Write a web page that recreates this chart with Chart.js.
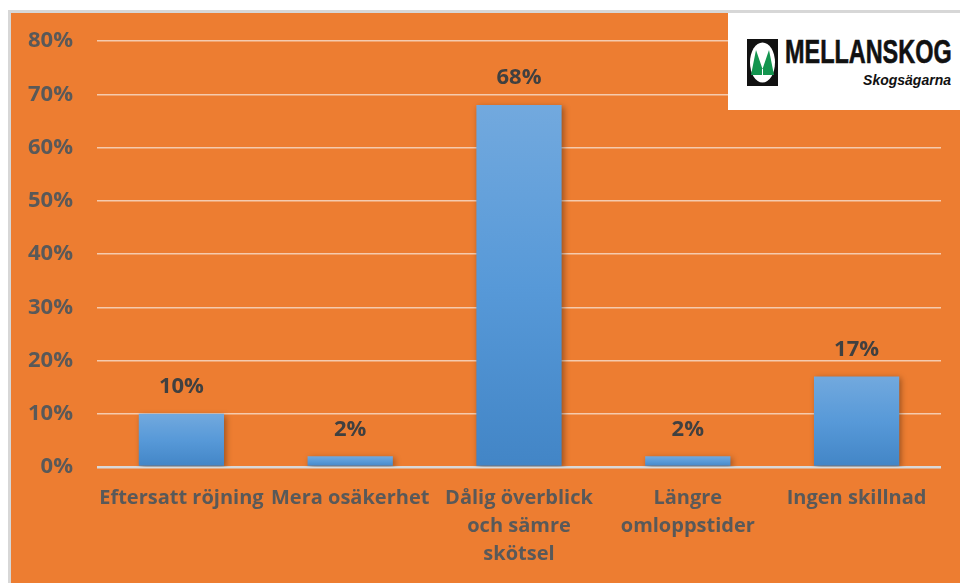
<!DOCTYPE html>
<html>
<head>
<meta charset="utf-8">
<script src="https://cdn.jsdelivr.net/npm/chart.js@4/dist/chart.umd.min.js"></script>
<style>
  html, body { margin: 0; padding: 0; background: #ffffff; width: 960px; height: 583px; overflow: hidden; }
  #frame { position: absolute; left: 8px; top: 10px; width: 952px; height: 573px;
           border-left: 3px solid #d7d7d7; border-top: 3px solid #d7d7d7; box-sizing: border-box; }
  #panel { position: absolute; left: 11px; top: 13px; width: 949px; height: 570px; background: #ED7D31; }
  #panel canvas { position: absolute; left: 0; top: 0; }
  #logo { position: absolute; left: 728px; top: 13px; width: 232px; height: 97px; background: #ffffff; }
  #logo svg { position: absolute; left: 19px; top: 26px; }
  #logo .name { position: absolute; left: 57px; top: 22px; font-family: "Liberation Sans", Arial, sans-serif;
                font-weight: bold; font-size: 33px; line-height: 33px; color: #111; white-space: nowrap;
                transform: scaleX(0.71); transform-origin: left top; -webkit-text-stroke: 0.6px #111; }
  #logo .sub { position: absolute; right: 9px; top: 60px; font-family: "Liberation Sans", Arial, sans-serif;
               font-weight: bold; font-style: italic; font-size: 14px; line-height: 14px; color: #111; white-space: nowrap; }
</style>
</head>
<body>
<div id="frame"></div>
<div id="panel"><canvas id="c" width="949" height="570"></canvas></div>
<div id="logo">
  <svg width="31" height="47" viewBox="0 0 31 47">
    <rect x="0" y="0" width="31" height="47" fill="#111"/>
    <ellipse cx="15.5" cy="23.5" rx="12.5" ry="20" fill="#fff"/>
    <polygon points="4,36 9,11 15.5,30 22,11 27,36" fill="#13954f"/>
    <line x1="15.5" y1="30" x2="15.5" y2="36" stroke="#fff" stroke-width="1"/>
  </svg>
  <div class="name">MELLANSKOG</div>
  <div class="sub">Skogsägarna</div>
</div>
<script>
const categories = [
  "Eftersatt röjning",
  "Mera osäkerhet",
  ["Dålig överblick", "och sämre", "skötsel"],
  ["Längre", "omloppstider"],
  "Ingen skillnad"
];
const values = [10, 2, 68, 2, 17];
const yTicks = [0, 10, 20, 30, 40, 50, 60, 70, 80];

const FONT = "'Open Sans', Lato, sans-serif";

const shadowAndLabels = {
  id: 'shadowAndLabels',
  beforeDatasetsDraw(chart) {
    const ctx = chart.ctx;
    ctx.save();
    ctx.shadowColor = 'rgba(0,0,0,0.35)';
    ctx.shadowBlur = 6;
    ctx.shadowOffsetX = 2;
    ctx.shadowOffsetY = 2;
  },
  afterDatasetsDraw(chart) {
    const ctx = chart.ctx;
    ctx.restore();
    ctx.save();
    const meta = chart.getDatasetMeta(0);
    ctx.font = "bold 22px " + FONT;
    ctx.fillStyle = '#404040';
    ctx.textAlign = 'center';
    ctx.textBaseline = 'middle';
    meta.data.forEach((bar, i) => {
      ctx.fillText(values[i] + '%', bar.x, bar.y - 27);
    });
    ctx.restore();
  }
};

new Chart(document.getElementById('c'), {
  type: 'bar',
  data: {
    labels: categories,
    datasets: [{
      data: values,
      backgroundColor(context) {
        const chart = context.chart;
        const area = chart.chartArea;
        if (!area) return '#5B9BD5';
        const ys = chart.scales.y;
        const v = context.raw;
        const top = ys.getPixelForValue(v);
        const bottom = ys.getPixelForValue(0);
        const g = chart.ctx.createLinearGradient(0, top, 0, bottom);
        g.addColorStop(0, '#72A9DE');
        g.addColorStop(0.5, '#5799D8');
        g.addColorStop(1, '#4285C6');
        return g;
      },
      borderWidth: 0,
      categoryPercentage: 1,
      barPercentage: 0.505
    }]
  },
  options: {
    responsive: false,
    animation: false,
    devicePixelRatio: 1,
    layout: { padding: { left: 0, right: 19, top: 28, bottom: 0 } },
    plugins: { legend: { display: false }, tooltip: { enabled: false } },
    scales: {
      x: {
        grid: { display: false, drawTicks: false },
        border: { display: false },
        ticks: {
          color: '#595959',
          font: { family: FONT, size: 20, weight: 'bold', lineHeight: 1.4 },
          padding: 17,
          maxRotation: 0,
          autoSkip: false
        },
        afterFit(scale) { scale.height = 116; }
      },
      y: {
        min: 0,
        max: 80,
        afterBuildTicks(scale) { scale.ticks = yTicks.map(v => ({ value: v })); },
        grid: {
          drawTicks: false,
          color(ctx) { return ctx.index === 0 ? '#D9D9D9' : '#F5CBAE'; },
          lineWidth(ctx) { return ctx.index === 0 ? 2.5 : 1.5; }
        },
        border: { display: false },
        ticks: {
          color: '#595959',
          font: { family: FONT, size: 22, weight: 'bold' },
          padding: 24,
          callback(v) { return v + '%'; }
        },
        afterFit(scale) {
          scale.width = 86;
          scale.paddingTop = 0;
          scale.paddingBottom = 0;
        }
      }
    }
  },
  plugins: [shadowAndLabels]
});
</script>
</body>
</html>
